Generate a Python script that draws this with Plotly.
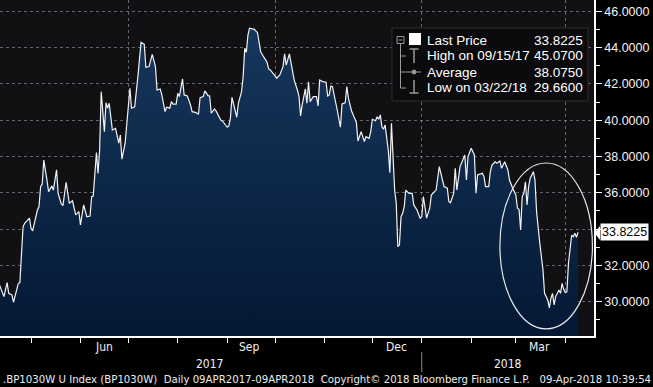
import pandas as pd
import plotly.graph_objects as go

# ---------------- data ----------------
start_date = "2017-04-10"
day_offsets = [0, 4, 6, 7, 9, 10, 13, 14, 16, 17, 20, 21, 22, 25, 26, 27, 28, 29, 31, 32,
               34, 35, 37, 38, 40, 41, 43, 45, 47, 49, 51, 52, 54, 56, 58, 59, 60, 62, 63, 64,
               65, 67, 68, 69, 70, 72, 74, 76, 77, 78, 80, 82, 83, 84, 86, 88, 90, 92, 93, 95,
               97, 99, 100, 102, 103, 105, 106, 108, 109, 110, 112, 113, 114, 116, 117, 119, 121, 122, 124, 126,
               127, 129, 130, 132, 133, 134, 136, 137, 140, 141, 144, 145, 146, 147, 150, 151, 153, 154, 155, 156,
               157, 158, 161, 163, 165, 167, 169, 170, 171, 174, 175, 177, 179, 180, 181, 183, 184, 186, 188, 189,
               190, 191, 193, 194, 195, 196, 198, 200, 201, 202, 204, 206, 207, 208, 209, 210, 213, 215, 216, 218,
               219, 220, 222, 223, 225, 226, 228, 230, 231, 233, 234, 235, 237, 238, 239, 240, 241, 242, 243, 245,
               246, 247, 248, 249, 250, 251, 252, 253, 254, 255, 256, 258, 260, 261, 263, 265, 266, 267, 268, 269,
               271, 272, 274, 275, 276, 277, 279, 280, 282, 283, 284, 286, 287, 288, 290, 291, 293, 294, 295, 297,
               299, 300, 301, 304, 305, 306, 308, 309, 310, 312, 313, 315, 316, 318, 320, 321, 322, 323, 325, 326,
               327, 328, 329, 330, 331, 332, 333, 334, 335, 336, 337, 338, 340, 342, 343, 344, 345, 346, 347, 348,
               349, 350, 352, 353, 354, 355, 356, 357, 358, 360, 361, 362, 363, 364]
prices = [31.2, 30.28, 31.05, 30.46, 30.37, 29.97, 31.0, 31.05, 34.13, 34.32, 34.6, 34.04, 33.9, 35.05, 35.23, 36.33, 36.48, 37.8, 36.7, 36.06,
          36.37, 36.15, 37.26, 35.97, 35.38, 35.29, 36.58, 35.42, 35.56, 34.78, 34.96, 34.23, 35.33, 34.68, 34.72, 35.79, 35.82, 38.21, 37.07, 38.36,
          41.57, 39.37, 40.96, 40.66, 40.93, 39.46, 39.55, 38.73, 39.18, 37.85, 38.73, 40.74, 41.76, 40.66, 40.74, 42.4, 44.29, 44.18, 42.91, 42.95,
          43.63, 42.95, 41.66, 41.72, 41.39, 40.47, 40.71, 40.66, 41.02, 40.88, 40.88, 41.48, 41.3, 42.27, 41.39, 41.33, 40.84, 40.47, 40.43, 40.34,
          41.24, 41.3, 41.61, 41.35, 41.33, 40.38, 40.62, 40.51, 40.01, 39.96, 39.61, 39.68, 40.1, 41.26, 40.16, 40.93, 41.57, 42.4, 43.96, 43.74,
          44.69, 45.07, 45.0, 44.82, 43.77, 43.47, 43.19, 42.82, 42.77, 42.44, 42.31, 42.49, 42.95, 43.65, 43.04, 43.65, 43.08, 42.21, 41.66, 41.33,
          40.23, 40.84, 41.72, 40.93, 42.12, 41.02, 41.3, 41.3, 40.78, 42.21, 42.12, 42.09, 41.33, 41.39, 41.88, 41.85, 40.56, 39.61, 40.89, 40.96,
          41.85, 41.21, 40.5, 40.29, 39.88, 38.85, 39.37, 38.82, 39.09, 39.0, 39.37, 40.05, 39.97, 40.19, 40.05, 40.29, 39.64, 39.5, 39.74, 38.36,
          37.11, 39.83, 37.99, 36.15, 35.42, 33.03, 33.12, 34.68, 34.87, 35.23, 36.15, 35.97, 35.97, 35.33, 35.05, 34.6, 34.68, 35.79, 35.23, 34.6,
          35.15, 35.88, 36.06, 36.15, 36.8, 37.44, 36.7, 36.34, 36.25, 35.51, 35.45, 35.97, 37.35, 36.15, 37.44, 37.63, 38.08, 36.7, 37.99, 38.45,
          38.08, 35.97, 36.98, 37.07, 36.89, 36.34, 36.34, 37.16, 37.53, 37.71, 37.63, 37.75, 37.35, 37.71, 37.26, 36.7, 36.43, 36.25, 35.88, 35.15,
          35.09, 33.95, 35.79, 35.97, 36.61, 35.33, 36.34, 36.8, 36.98, 37.16, 36.7, 34.96, 33.22, 31.75, 30.46, 30.28, 30.09, 29.66, 30.19, 30.46,
          29.82, 30.28, 30.64, 30.46, 31.01, 30.68, 30.5, 30.55, 32.12, 33.67, 33.58, 33.77, 33.55, 33.8225]

y_ticks = [30, 32, 34, 36, 38, 40, 42, 44, 46]
y_tick_text = ["30.0000", "32.0000", "", "36.0000", "38.0000", "40.0000", "42.0000", "44.0000", "46.0000"]
month_labels = ["Jun", "Sep", "Dec", "Mar"]
month_label_dates = ["2017-06-16", "2017-09-15", "2017-12-16", "2018-03-16"]
year_labels = ["2017", "2018"]
year_label_dates = ["2017-08-21", "2018-02-24"]

legend_names = ["Last Price", "High on 09/15/17", "Average", "Low on 03/22/18"]
legend_values = ["33.8225", "45.0700", "38.0750", "29.6600"]
last_price = 33.8225
last_price_text = "33.8225"

footer = (".BP1030W U Index (BP1030W)  Daily 09APR2017-09APR2018  "
          "Copyright\u00a9 2018 Bloomberg Finance L.P.   09-Apr-2018 10:39:54")

dates = pd.Timestamp(start_date) + pd.to_timedelta(day_offsets, unit="D")

# ---------------- figure ----------------
W, H = 653, 387
ML, MR, MT, MB = 0, 59, 0, 51
PW, PH = W - ML - MR, H - MT - MB


def px(x):
    return (x - ML) / PW


def py(y):
    return 1 - (y - MT) / PH


fig = go.Figure()
fig.add_trace(go.Scatter(
    x=dates, y=prices, mode="lines",
    line=dict(color="#f2f2f2", width=1.2),
    fill="tozeroy",
    fillgradient=dict(type="vertical", start=28.1, stop=45.2,
                      colorscale=[[0, "#041834"], [1, "#16375d"]]),
    hoverinfo="x+y", showlegend=False,
))

grid_col = "rgba(150,160,175,0.6)"
fig.update_xaxes(
    type="date", range=["2017-04-11 13:00", "2018-04-19"],
    showline=True, linecolor="#ffffff", linewidth=1.5,
    tick0="2017-07-01", dtick="M3", ticks="outside", ticklen=5, tickcolor="#ffffff",
    showticklabels=False,
    showgrid=True, gridcolor=grid_col, griddash="3px,3px", gridwidth=1,
    minor=dict(tick0="2017-05-01", dtick="M1", ticks="outside", ticklen=5,
               tickcolor="#ffffff", showgrid=False),
    zeroline=False,
)
fig.update_yaxes(
    range=[28.11, 46.62], side="right",
    showline=True, linecolor="#ffffff", linewidth=1.5,
    tickvals=y_ticks, ticktext=y_tick_text,
    ticks="outside", ticklen=6, tickcolor="#ffffff",
    tickfont=dict(family="Liberation Sans, Arial", size=12.5, color="#f4f4f4"),
    showgrid=True, gridcolor=grid_col, griddash="3px,3px", gridwidth=1,
    minor=dict(dtick=1, ticks="outside", ticklen=4, tickcolor="#ffffff", showgrid=False),
    zeroline=False,
)

shapes = []
annotations = []

# circled region
shapes.append(dict(type="circle", xref="x", yref="y",
                   x0="2018-02-19", x1="2018-04-18", y0=28.5, y1=37.64,
                   line=dict(color="#e8e8e8", width=1.2)))

# last price tag
shapes.append(dict(type="path", xref="paper", yref="paper", layer="above",
                   path=f"M {px(594.5)} {py(233)} L {px(600)} {py(226)} L {px(600)} {py(240)} Z",
                   fillcolor="#ffffff", line=dict(width=0)))
annotations.append(dict(xref="paper", yref="y", x=px(599.5), y=last_price, xanchor="left",
                        yanchor="middle", text=last_price_text, showarrow=False,
                        bgcolor="#ffffff", borderpad=1,
                        font=dict(family="Liberation Sans, Arial", size=12.5, color="#000000")))

# month / year labels
label_font = dict(family="DejaVu Sans Condensed, Liberation Sans Narrow, Arial Narrow",
                  size=12, color="#f0f0f0")
for t, d in zip(month_labels, month_label_dates):
    annotations.append(dict(xref="x", yref="paper", x=d, y=py(347), text=t,
                            showarrow=False, yanchor="middle", font=label_font))
for t, d in zip(year_labels, year_label_dates):
    annotations.append(dict(xref="x", yref="paper", x=d, y=py(364), text=t,
                            showarrow=False, yanchor="middle", font=label_font))
shapes.append(dict(type="line", xref="x", yref="paper", x0="2018-01-01", x1="2018-01-01",
                   y0=py(352), y1=py(372), line=dict(color="#888888", width=1)))

# footer
annotations.append(dict(xref="paper", yref="paper", x=px(1), y=py(379.5), xanchor="left",
                        yanchor="middle", text=footer, showarrow=False,
                        font=dict(family="DejaVu Sans Condensed, Liberation Sans Narrow, Arial Narrow",
                                  size=11.3, color="#ececec")))

# legend box
shapes.append(dict(type="rect", xref="paper", yref="paper", layer="above",
                   x0=px(392), x1=px(588), y0=py(101), y1=py(28),
                   fillcolor="#0b0b0d", line=dict(color="#2e2e30", width=1)))
tree_col = "#9a9a9a"
row_y = [40, 56, 72, 88]
# collapse box
shapes.append(dict(type="rect", xref="paper", yref="paper", layer="above",
                   x0=px(397), x1=px(404), y0=py(43.5), y1=py(36.5),
                   fillcolor="#0b0b0d", line=dict(color=tree_col, width=1)))
shapes.append(dict(type="line", xref="paper", yref="paper", layer="above",
                   x0=px(398.5), x1=px(402.5), y0=py(40), y1=py(40),
                   line=dict(color=tree_col, width=1)))
shapes.append(dict(type="line", xref="paper", yref="paper", layer="above",
                   x0=px(400.5), x1=px(400.5), y0=py(44), y1=py(88),
                   line=dict(color=tree_col, width=1)))
for ry in row_y[1:]:
    shapes.append(dict(type="line", xref="paper", yref="paper", layer="above",
                       x0=px(400.5), x1=px(406), y0=py(ry), y1=py(ry),
                       line=dict(color=tree_col, width=1)))
# white square (Last Price)
shapes.append(dict(type="rect", xref="paper", yref="paper", layer="above",
                   x0=px(409), x1=px(421), y0=py(45), y1=py(33),
                   fillcolor="#ffffff", line=dict(width=0)))
# High icon (T)
shapes.append(dict(type="line", xref="paper", yref="paper", layer="above",
                   x0=px(409.5), x1=px(418.5), y0=py(49), y1=py(49),
                   line=dict(color=tree_col, width=1.5)))
shapes.append(dict(type="line", xref="paper", yref="paper", layer="above",
                   x0=px(414), x1=px(414), y0=py(49), y1=py(63),
                   line=dict(color=tree_col, width=1.5)))
# Average icon
shapes.append(dict(type="line", xref="paper", yref="paper", layer="above",
                   x0=px(406), x1=px(421), y0=py(72), y1=py(72),
                   line=dict(color=tree_col, width=1)))
shapes.append(dict(type="circle", xref="paper", yref="paper", layer="above",
                   x0=px(412), x1=px(416), y0=py(74), y1=py(70),
                   fillcolor=tree_col, line=dict(color=tree_col, width=1)))
# Low icon (inverted T)
shapes.append(dict(type="line", xref="paper", yref="paper", layer="above",
                   x0=px(414), x1=px(414), y0=py(80), y1=py(93),
                   line=dict(color=tree_col, width=1.5)))
shapes.append(dict(type="line", xref="paper", yref="paper", layer="above",
                   x0=px(409.5), x1=px(418.5), y0=py(93), y1=py(93),
                   line=dict(color=tree_col, width=1.5)))

leg_font = dict(family="Liberation Sans, Arial", size=13.5, color="#ffffff")
for name, val, ry in zip(legend_names, legend_values, row_y):
    annotations.append(dict(xref="paper", yref="paper", x=px(425), y=py(ry), xanchor="left",
                            yanchor="middle", text=name, showarrow=False, font=leg_font))
    annotations.append(dict(xref="paper", yref="paper", x=px(585), y=py(ry), xanchor="right",
                            yanchor="middle", text=val, showarrow=False, font=leg_font))

fig.update_layout(
    width=W, height=H,
    margin=dict(l=ML, r=MR, t=MT, b=MB),
    paper_bgcolor="#000000", plot_bgcolor="#111114",
    shapes=shapes, annotations=annotations,
    showlegend=False,
)

fig.write_html(
    "out.html",
    config={"displayModeBar": False},
    post_script="document.body.style.margin='0';document.body.style.padding='0';"
                "document.body.style.overflow='hidden';document.body.style.background='#000';",
)
